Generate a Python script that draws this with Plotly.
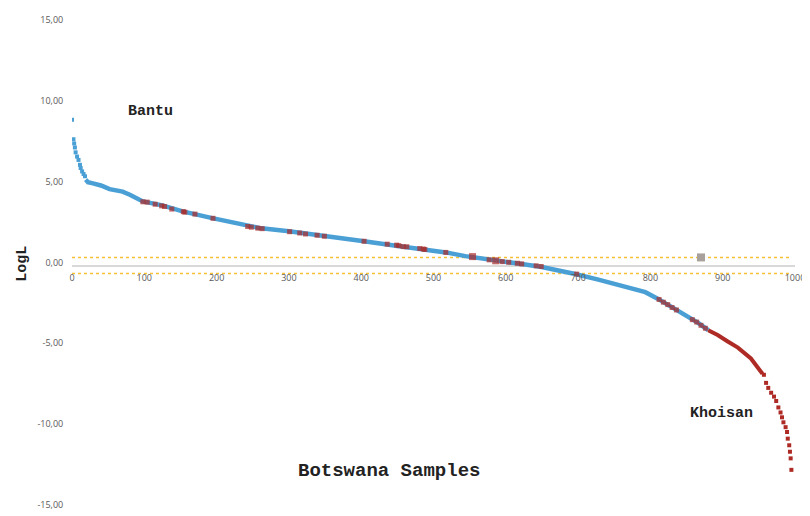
import plotly.graph_objects as go

# ---------------- data ----------------
HEAD_X = [0, 2, 3, 4, 5, 7, 9, 11, 12, 14, 16, 18]
HEAD_Y = [9.02, 7.81, 7.55, 7.30, 7.00, 6.74, 6.53, 6.23, 6.03, 5.82, 5.66, 5.52]

MAIN_X = [19, 22, 29, 40, 52, 70, 80, 98, 125, 153, 194, 241, 259, 300, 338,
          404, 448, 484, 517, 544, 553, 586, 617, 648, 673, 696, 728, 765,
          793, 810, 825, 838, 852, 866, 880]
MAIN_Y = [5.31, 5.15, 5.08, 4.95, 4.72, 4.57, 4.38, 3.96, 3.72, 3.35, 2.93,
          2.50, 2.32, 2.12, 1.87, 1.50, 1.22, 1.02, 0.81, 0.58, 0.53, 0.30,
          0.12, -0.08, -0.29, -0.53, -0.87, -1.28, -1.65, -2.05, -2.45,
          -2.80, -3.20, -3.55, -4.00]

KHOISAN_X = [880, 893, 907, 921, 939, 948, 955]
KHOISAN_Y = [-4.00, -4.30, -4.70, -5.08, -5.75, -6.30, -6.70]

TAIL_X = [957, 960, 963, 967, 971, 974, 977, 980, 982, 984, 987, 989, 990,
          992, 993, 994, 995]
TAIL_Y = [-6.76, -7.26, -7.57, -7.87, -8.11, -8.38, -8.78, -9.09, -9.39,
          -9.70, -10.00, -10.30, -10.71, -11.12, -11.52, -11.93, -12.64]

RED_X = [98, 104, 115, 124, 128, 138, 154, 156, 170, 195, 243, 248, 257, 263,
         301, 315, 323, 339, 349, 404, 436, 449, 452, 458, 463, 481, 486, 488,
         517, 554, 577, 586, 595, 604, 616, 622, 642, 649, 698,
         812, 818, 824, 830, 836, 858, 864, 870, 876]
RED_Y = [3.94, 3.92, 3.79, 3.69, 3.65, 3.49, 3.33, 3.30, 3.18, 2.92, 2.41,
         2.37, 2.31, 2.28, 2.09, 2.01, 1.95, 1.87, 1.81, 1.50, 1.32, 1.26,
         1.23, 1.17, 1.16, 1.05, 1.02, 0.99, 0.81, 0.55, 0.35, 0.29, 0.24,
         0.20, 0.14, 0.10, -0.02, -0.06, -0.53,
         -2.10, -2.27, -2.42, -2.60, -2.75, -3.35, -3.50, -3.70, -3.88]
RED_BIG = [554, 586]

THRESH_X = [0, 994]
THRESH_UPPER = [0.5, 0.5]
THRESH_LOWER = [-0.5, -0.5]

GRAY_X = [870]
GRAY_Y = [0.5]

X_TICKS = [0, 100, 200, 300, 400, 500, 600, 700, 800, 900, 1000]
Y_TICKS = [-15, -10, -5, 0, 5, 10, 15]
Y_TICK_LABELS = ["-15,00", "-10,00", "-5,00", "0,00", "5,00", "10,00", "15,00"]

# ---------------- styles ----------------
BLUE = "#4A9FD5"
RED = "#AD2A25"
GOLD = "#F7C035"
GRAY = "#A8A09B"
TICKFONT = dict(family="Open Sans", size=9, color="#595959")
MONO = "Courier New, Liberation Mono, monospace"

fig = go.Figure()

for ys in (THRESH_UPPER, THRESH_LOWER):
    fig.add_trace(go.Scatter(x=THRESH_X, y=ys, mode="lines",
                             line=dict(color=GOLD, width=1.5, dash="dot"),
                             hoverinfo="skip", showlegend=False))

fig.add_trace(go.Scatter(x=HEAD_X, y=HEAD_Y, mode="markers",
                         marker=dict(color=BLUE, size=4, symbol="square"),
                         showlegend=False))
fig.add_trace(go.Scatter(x=MAIN_X, y=MAIN_Y, mode="lines",
                         line=dict(color=BLUE, width=4.5),
                         showlegend=False))
fig.add_trace(go.Scatter(x=KHOISAN_X, y=KHOISAN_Y, mode="lines",
                         line=dict(color=RED, width=4),
                         showlegend=False))
fig.add_trace(go.Scatter(x=TAIL_X, y=TAIL_Y, mode="markers",
                         marker=dict(color=RED, size=4, symbol="square"),
                         showlegend=False))

red_sizes = [7 if x in RED_BIG else 5 for x in RED_X]
fig.add_trace(go.Scatter(x=RED_X, y=RED_Y, mode="markers",
                         marker=dict(color=RED, size=red_sizes, symbol="square",
                                     line=dict(width=0)),
                         showlegend=False))
fig.add_trace(go.Scatter(x=GRAY_X, y=GRAY_Y, mode="markers",
                         marker=dict(color=GRAY, size=8, symbol="square"),
                         showlegend=False))

# the page body adds an 8px margin, so the figure is sized to end at 810x516
fig.update_layout(
    width=802, height=508,
    margin=dict(l=64, r=13, t=10, b=5),
    paper_bgcolor="white", plot_bgcolor="white",
    showlegend=False,
    xaxis=dict(range=[0, 1000], tickvals=X_TICKS, showgrid=False,
               zeroline=False, showline=False, anchor="free", position=0.5,
               ticks="outside", ticklen=4, tickcolor="rgba(0,0,0,0)",
               tickfont=TICKFONT),
    yaxis=dict(range=[-15, 15], tickvals=Y_TICKS, ticktext=Y_TICK_LABELS,
               showgrid=False, zeroline=True, zerolinecolor="#D9D9D9",
               zerolinewidth=1.5, showline=False,
               ticks="outside", ticklen=6, tickcolor="rgba(0,0,0,0)",
               ticklabelshift=-3, tickfont=TICKFONT),
    annotations=[
        dict(text="<b>Bantu</b>", x=109, y=9.55, xref="x", yref="y",
             showarrow=False, font=dict(family=MONO, size=15, color="#222")),
        dict(text="<b>Khoisan</b>", x=899, y=-9.13, xref="x", yref="y",
             showarrow=False, font=dict(family=MONO, size=15, color="#222")),
        dict(text="<b>Botswana Samples</b>", x=439, y=-12.72, xref="x",
             yref="y", showarrow=False,
             font=dict(family=MONO, size=19, color="#222")),
        dict(text="<b>LogL</b>", x=-0.068, y=0.1, xref="paper", yref="y",
             xanchor="center", yanchor="middle",
             textangle=-90, showarrow=False,
             font=dict(family=MONO, size=15, color="#222")),
    ],
)

fig.write_html("out.html")
